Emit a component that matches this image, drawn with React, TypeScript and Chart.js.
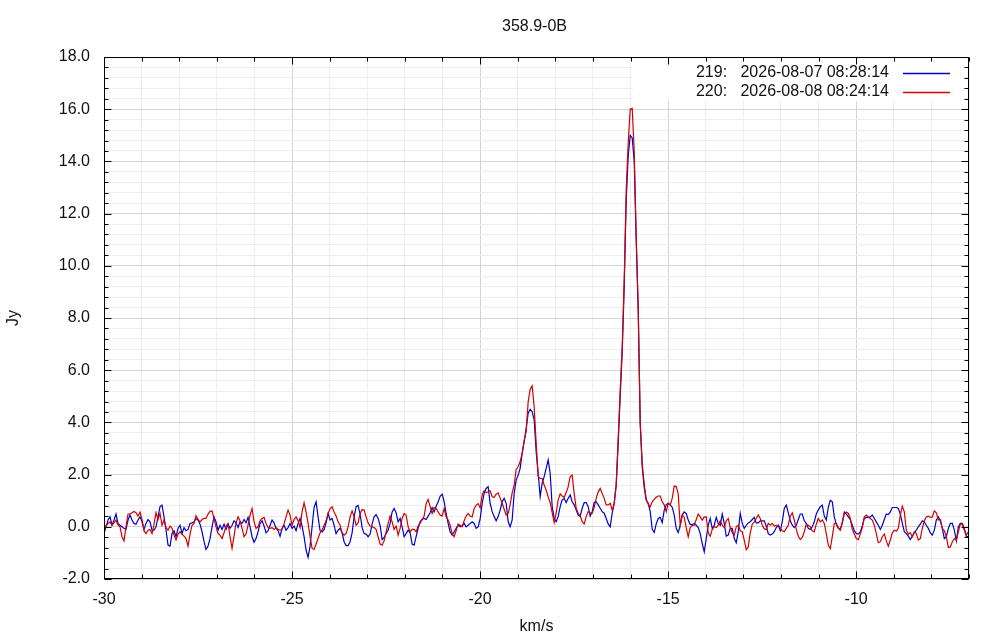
import { useEffect, useRef } from 'react';
import { Chart, registerables } from 'chart.js';

Chart.register(...registerables);

// ---------- data ----------
const TITLE = '358.9-0B';
const X_LABEL = 'km/s';
const Y_LABEL = 'Jy';
const X_MIN = -30;
const X_MAX = -7;
const Y_MIN = -2;
const Y_MAX = 18;
const CHANNEL_START = -30; // km/s, first channel
const CHANNEL_WIDTH = 0.0532; // km/s per channel

const SERIES_LABELS = ['219:   2026-08-07 08:28:14', '220:   2026-08-08 08:24:14'];
const SERIES_COLORS = ['#0000cc', '#d40000'];

// scan 219 (Jy per channel)
const SCAN_219 = [
  -0.26, 0, 0.26, 0.38, 0.06, 0.26, 0.49, 0.13, 0.06, 0,
  -0.06, -0.1, 0.26, 0.45, 0.26, 0.13, 0.1, 0.26, 0.38, 0.19,
  -0.1, 0.13, 0.28, 0.19, -0.13, -0.13, 0, 0.38, 0.77, 0.83,
  0.38, -0.13, -0.7, -0.74, -0.26, -0.15, -0.38, -0.06, 0.06, -0.26,
  -0.03, -0.15, -0.1, 0.13, 0.15, 0.19, 0.32, 0.26, 0.1, -0.19,
  -0.57, -0.87, -0.74, -0.45, 0, 0.38, 0.19, -0.13, 0.06, -0.1,
  0.1, -0.1, 0.1, -0.06, 0.06, 0.23, 0.15, -0.03, 0.19, 0.13,
  0.28, 0.15, 0.36, 0, -0.38, -0.59, -0.45, -0.19, 0.13, 0.23,
  0.03, -0.23, -0.15, 0.06, 0.26, 0.15, -0.06, -0.15, -0.36, -0.06,
  0.06, -0.13, -0.03, 0.13, -0.06, 0.03, -0.15, 0.13, 0.32, 0.03,
  -0.38, -0.89, -1.17, -0.74, 0, 0.74, 0.96, 0.38, -0.15, -0.2,
  -0.1, 0.15, 0.51, 0.26, 0.32, 0.06, -0.26, -0.13, -0.06, -0.23,
  -0.57, -0.72, -0.72, -0.57, -0.23, 0.38, 0.77, 0.82, 0.49, -0.03,
  -0.26, -0.28, -0.38, -0.28, 0.1, 0.38, 0.47, 0.32,
  0.05, -0.49, -0.41, -0.26, -0.13, 0.13, 0.57, 0.7, 0.54, 0.19,
  0.32, 0, -0.38, -0.26, -0.13, -0.23, -0.66, -0.7, -0.38, -0.06,
  0.19, 0.29, 0.32, 0.28, 0.41, 0.54, 0.74, 0.57, 0.79, 0.96,
  1.17, 1.25, 0.96, 0.51, 0.13, -0.19, -0.32, -0.19, -0.06, 0.06,
  0, 0.03, 0.13, 0, 0.06, 0.13, 0.19, 0.13, -0.06, 0,
  0.3, 0.9, 1.28, 1.47, 1.54, 0.9, 0.58, 0.39, 0.23, 0.39,
  0.64, 0.96, 1.09, 0.9, 0.2, 0, 0.26, 1.28, 1.79, 1.98,
  2.24, 2.81, 3.26, 3.77, 4.35, 4.5, 4.41, 4.09, 2.88, 2.05,
  1.15, 1.67, 1.92, 2.24, 2.56, 2.05, 0.77, 0.32, 0.2, 0.39,
  0.77, 1.03, 1.09, 0.93, 1.09, 1.22, 0.96, 0.84, 0.64, 0.45,
  0.41, 0.71, 0.93, 0.93, 0.77, 0.41, 0.58, 0.93, 0.96, 0.84,
  0.71, 0.58, 0.52, 0.32, 0.11, 0, 0.52,
  0.9, 1.6, 3.2, 5.0, 6.7, 9.2, 12.5, 14.2, 15.0, 14.9, 14.0, 11.0, 8.3, 4.0, 2.3, 1.5,
  1.03, 0.9, 0.58, -0.1, -0.22, 0.11, 0.32, 0.36, 0.16, 0.64,
  0.84, 0.9, 0.84, 0.75, 0.45, -0.06, -0.22,
  0.06, 0.45, 0.57, 0.51, 0.26, 0.09, 0.08, 0.13, 0.06, -0.03,
  -0.26, -0.64, -0.96, -0.45, 0.06, 0.32, -0.06, 0.06, 0.36, 0.13,
  0.06, 0.49, 0.13, -0.36, -0.32, -0.06, -0.06, -0.45, -0.61, -0.19,
  0.51, 0.13, -0.06, 0.06, 0.15, 0.19, 0.28, 0.36, 0.15, 0.15,
  0.23, 0.23, 0.23, 0.03, -0.26, -0.32, -0.28, -0.19, -0.03, 0.06,
  -0.15, 0.19, 0.7, 0.83, 0.54, 0.23, 0.06, -0.03, 0.06, 0.28,
  0.49, 0.49, 0.23, 0.13, -0.06, -0.1, 0, 0.19, 0.49, 0.64,
  0.77, 0.83, 0.41, 0.26, 0.74, 1.02, 0.96, 0.38, 0.1, -0.06,
  -0.1, 0.13, 0.57, 0.49, 0.38, 0.28, 0.06, -0.15, -0.26, -0.28,
  -0.2, 0.03, 0.32, 0.36, 0.36, 0.38, 0.45, 0.32, 0.19, 0.06,
  -0.1, 0.06, 0.28, 0.49, 0.47, 0.57, 0.74, 0.74, 0.74, 0.7,
  0.49, 0.13, -0.19, -0.26, -0.36, -0.49, -0.36, -0.23, -0.13, 0,
  0.1, 0.23, 0.19, 0.06, -0.06, -0.23, -0.32, -0.13, 0.26, 0.38,
  0.23, -0.06, -0.45, -0.38, -0.06, 0.13, 0.13, -0.13, -0.54, 0,
  0.13, 0.13, -0.06, -0.38, -0.38,
];

// scan 220 (Jy per channel)
const SCAN_220 = [
  0.06, 0.03, 0.13, 0.19, 0.06, 0.15, 0.26, 0.06, 0, -0.38,
  -0.54, 0, 0.49, 0.49, 0.54, 0.59, 0.54, 0.41, 0.56, 0.28,
  -0.15, -0.26, -0.13, -0.1, -0.26, 0.1, 0.54, 0.28, 0.51, 0.06,
  0.26, -0.03, -0.13, 0.03, -0.06, -0.32, -0.51, -0.28, -0.19, -0.28,
  -0.36, -0.45, -0.74, -0.28, 0.06, 0.13, 0.43, 0.28, 0.19, 0.28,
  0.32, 0.32, 0.49, 0.59, 0.61, 0.32, 0, -0.26, -0.32, -0.45,
  -0.23, 0.03, 0.13, -0.38, -0.83, -0.36, 0.15, 0.38, 0.23, -0.06,
  -0.38, -0.28, 0.06, 0.45, 0.7, 0.19, -0.06, 0, 0.23, 0.32,
  0.36, 0.13, -0.03, -0.06, -0.03, -0.1, -0.03, -0.1, -0.13, -0.1,
  0.13, 0.38, 0.64, 0.45, 0.06, 0.28, 0.38, 0.23, -0.03, 0.57,
  0.92, 0.57, 0.13, -0.38, -0.83, -0.87, -0.66, -0.45, -0.23, -0.13,
  0.06, 0.23, 0.51, 0.7, 0.77, 0.57, 0.41, 0.19, 0.06, -0.23,
  -0.32, -0.26, 0, 0.38, 0.61, 0.38, 0.06, 0.15, 0.51, 0.66,
  0.64, 0.38, 0.15, 0.03, 0, -0.03, -0.1, -0.38,
  -0.66, -0.7, -0.54, -0.19, 0.13, 0.41, 0.19, -0.1, 0.03, -0.32,
  -0.06, 0.32, 0.51, 0.45, 0, -0.19, -0.1, -0.1, -0.19, 0.03,
  0.15, 0.26, 0.41, 0.89, 1.05, 0.77, 0.51, 0.74, 0.7, 0.57,
  0.45, 0.41, 0.7, 0.38, 0.26, 0.06, -0.26, -0.38, -0.15, 0.1,
  0.06, 0, 0.23, 0.41, 0.51, 0.41, 0.38, 0.7, 0.83, 0.89,
  0.72, 1.22, 1.38, 1.31, 1.34, 1.38, 1.15, 1.13, 1.25, 1.3,
  1.1, 0.9, 0.67, 0.45, 0.5, 0.85, 1.3, 1.6, 2.2, 2.3,
  2.5, 2.81, 3.3, 3.65, 4.79, 5.27, 5.4, 4.6, 3.2, 1.92,
  1.85, 1.85, 1.6, 1.41, 1.15, 0.93, 0.54, 0.16, 0.52, 1.03,
  1.26, 1.18, 1.13, 1.31, 1.54, 1.92, 1.98, 1.28, 0.71, 0.52,
  0.41, 0.2, 0.11, 0.39, 0.58, 0.54, 0.52, 0.75, 1.09, 1.34,
  1.47, 1.28, 1.09, 0.84, 0.84, 0.9, 0.64,
  0.9, 1.6, 3.4, 5.24, 6.9, 9.46, 12.9, 14.7, 16.0, 16.03, 14.4, 11.1, 8.4, 3.96, 2.4, 1.65,
  1.03, 0.87, 0.77, 0.96, 1.05, 1.13, 1.18, 1.18, 0.96, 0.84,
  0.58, 0.9, 0.84, 1.09, 1.56, 1.54, 1.26,
  0.06, 0.45, 0.36, -0.03, -0.38, -0.03, 0.05, 0.06, 0.28, 0.49,
  0.38, 0.26, 0.38, 0.38, -0.23, -0.36, -0.1, 0, -0.03, 0.06,
  0.23, 0.06, -0.03, 0.23, 0.32, -0.03, -0.23, -0.32, 0, 0.06,
  -0.15, -0.19, -0.51, -0.87, -0.77, -0.23, 0.1, 0.19, 0.32, 0.45,
  0.32, 0.06, -0.08, -0.1, 0.13, 0.06, 0.13, 0.03, 0.06, 0.06,
  -0.06, -0.15, -0.19, -0.06, 0.06, 0.41, 0.54, 0.26, -0.1, -0.36,
  -0.49, -0.41, -0.19, 0.1, 0.06, 0, -0.15, -0.19, 0.1, 0.32,
  0.19, 0.26, 0.13, -0.26, -0.7, -0.84, -0.38, 0.13, 0.13, -0.03,
  -0.13, 0.19, 0.51, 0.57, 0.51, 0.32, -0.1, -0.28, -0.45, -0.49,
  -0.28, -0.03, 0.38, 0.45, 0.38, 0.32, 0.26, 0.06, -0.26, -0.61,
  -0.57, -0.38, -0.28, -0.54, -0.74, -0.51, -0.23, -0.13, -0.17, -0.06,
  0.45, 0.79, 0.57, -0.13, -0.28, -0.23, -0.38, -0.19, -0.26, -0.51,
  -0.45, -0.06, 0.23, 0.38, 0.41, 0.36, 0.38, 0.61, 0.54, 0.26,
  0.28, -0.06, -0.15, -0.38, -0.79, -0.77, -0.57, -0.45, -0.51, -0.19,
  0.1, 0.1, -0.13, -0.32, -0.19,
];

// ---------- styling ----------
const FONT_FAMILY = '"Liberation Sans", Arial, sans-serif';
const FONT_SIZE = 16;
const TEXT_COLOR = '#111111';
const MAJOR_GRID = '#d4d4d4';
const MINOR_GRID = '#eeeeee';

const isMultiple = (v: number, step: number) => {
  const r = v / step;
  return Math.abs(r - Math.round(r)) < 1e-6;
};

const toPoints = (vals: number[]) =>
  vals.map((y, i) => ({ x: CHANNEL_START + i * CHANNEL_WIDTH, y }));

const framePlugin = {
  id: 'gnuplotFrame',
  beforeDraw(chart: any) {
    const { ctx, width, height } = chart;
    ctx.save();
    ctx.fillStyle = '#ffffff';
    ctx.fillRect(0, 0, width, height);
    ctx.restore();
  },
  beforeDatasetsDraw(chart: any) {
    const { ctx, chartArea } = chart;
    const { top, right } = chartArea;
    ctx.save();
    // opaque key box
    ctx.fillStyle = '#ffffff';
    ctx.fillRect(right - 336, top + 1, 330, 43);
    ctx.font = `${FONT_SIZE}px ${FONT_FAMILY}`;
    ctx.textAlign = 'right';
    ctx.textBaseline = 'middle';
    chart.data.datasets.forEach((ds: any, i: number) => {
      const y = top + 16 + i * 19;
      ctx.fillStyle = TEXT_COLOR;
      ctx.fillText(ds.label, right - 80, y);
      ctx.strokeStyle = ds.borderColor;
      ctx.lineWidth = 1.3;
      ctx.beginPath();
      ctx.moveTo(right - 66, Math.round(y) + 0.5);
      ctx.lineTo(right - 19, Math.round(y) + 0.5);
      ctx.stroke();
    });
    ctx.restore();
  },
  afterDraw(chart: any) {
    const { ctx, chartArea } = chart;
    const { left, right, top, bottom } = chartArea;
    const xs = chart.scales.x;
    const ys = chart.scales.y;
    ctx.save();
    ctx.strokeStyle = '#000000';
    ctx.lineWidth = 1;
    ctx.beginPath();
    const L = Math.round(left) + 0.5;
    const R = Math.round(right) - 0.5;
    const T = Math.round(top) + 0.5;
    const B = Math.round(bottom) - 0.5;
    xs.ticks.forEach((t: any) => {
      const len = isMultiple(t.value, 5) ? 7 : 4;
      const px = Math.round(xs.getPixelForValue(t.value)) + 0.5;
      ctx.moveTo(px, B);
      ctx.lineTo(px, B - len);
      ctx.moveTo(px, T);
      ctx.lineTo(px, T + len);
    });
    ys.ticks.forEach((t: any) => {
      const len = isMultiple(t.value, 2) ? 7 : 4;
      const py = Math.round(ys.getPixelForValue(t.value)) + 0.5;
      ctx.moveTo(L, py);
      ctx.lineTo(L + len, py);
      ctx.moveTo(R, py);
      ctx.lineTo(R - len, py);
    });
    ctx.stroke();
    ctx.strokeRect(L, T, R - L, B - T);
    // title centred over the plot area
    ctx.fillStyle = TEXT_COLOR;
    ctx.font = `${FONT_SIZE}px ${FONT_FAMILY}`;
    ctx.textAlign = 'center';
    ctx.textBaseline = 'middle';
    ctx.fillText(TITLE, (left + right) / 2 - 2, 27);
    ctx.restore();
  },
};

export default function App() {
  const canvasRef = useRef<HTMLCanvasElement | null>(null);

  useEffect(() => {
    const canvas = canvasRef.current;
    if (!canvas) return;
    const font = { family: FONT_FAMILY, size: FONT_SIZE };
    const chart = new Chart(canvas, {
      type: 'line',
      data: {
        datasets: [
          {
            label: SERIES_LABELS[0],
            data: toPoints(SCAN_219),
            borderColor: SERIES_COLORS[0],
            backgroundColor: SERIES_COLORS[0],
            borderWidth: 1.2,
            pointRadius: 0,
            tension: 0,
            fill: false,
            order: 2,
          },
          {
            label: SERIES_LABELS[1],
            data: toPoints(SCAN_220),
            borderColor: SERIES_COLORS[1],
            backgroundColor: SERIES_COLORS[1],
            borderWidth: 1.2,
            pointRadius: 0,
            tension: 0,
            fill: false,
            order: 1,
          },
        ],
      },
      options: {
        animation: false,
        responsive: false,
        devicePixelRatio: 1,
        layout: { padding: { top: 57, right: 31, bottom: 0, left: 0 } },
        plugins: {
          legend: { display: false },
          title: { display: false },
          tooltip: { enabled: false },
        },
        scales: {
          x: {
            type: 'linear',
            min: X_MIN,
            max: X_MAX,
            ticks: {
              stepSize: 1,
              autoSkip: false,
              maxRotation: 0,
              padding: 11,
              color: TEXT_COLOR,
              font,
              callback: (v: any) => (isMultiple(Number(v), 5) ? String(Math.round(Number(v))) : ''),
            },
            grid: {
              drawTicks: false,
              lineWidth: 1,
              color: (c: any) => (c.tick && isMultiple(c.tick.value, 5) ? MAJOR_GRID : MINOR_GRID),
            },
            border: { display: false },
            title: {
              display: true,
              text: X_LABEL,
              color: TEXT_COLOR,
              font,
              padding: { top: 0, bottom: 4 },
            },
            afterFit: (s: any) => {
              s.height = 61;
            },
          },
          y: {
            type: 'linear',
            min: Y_MIN,
            max: Y_MAX,
            ticks: {
              stepSize: 0.4,
              autoSkip: false,
              padding: 14,
              color: TEXT_COLOR,
              font,
              callback: (v: any) => (isMultiple(Number(v), 2) ? Number(v).toFixed(1) : ''),
            },
            grid: {
              drawTicks: false,
              lineWidth: 1,
              color: (c: any) => (c.tick && isMultiple(c.tick.value, 2) ? MAJOR_GRID : MINOR_GRID),
            },
            border: { display: false },
            title: {
              display: true,
              text: Y_LABEL,
              color: TEXT_COLOR,
              font,
              padding: { top: 4, bottom: 0 },
            },
            afterFit: (s: any) => {
              s.width = 104;
            },
          },
        },
      },
      plugins: [framePlugin],
    });
    return () => chart.destroy();
  }, []);

  return (
    <div style={{ position: 'absolute', left: 0, top: 0, width: 1000, height: 640, background: '#fff' }}>
      <canvas ref={canvasRef} width={1000} height={640} style={{ display: 'block' }} />
    </div>
  );
}
